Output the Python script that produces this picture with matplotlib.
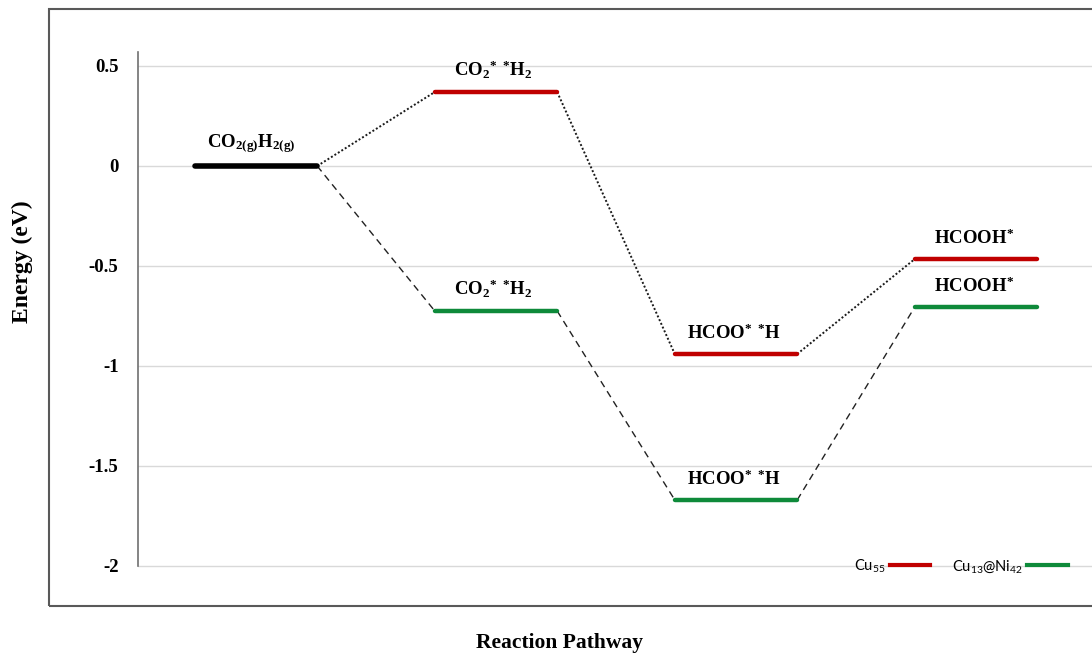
import matplotlib
matplotlib.use("Agg")
import matplotlib.pyplot as plt
from matplotlib.lines import Line2D
from matplotlib.patches import Rectangle

plt.rcParams['mathtext.default'] = 'regular'

# ---- data ----
stages = ['$CO_{2(g)}H_{2(g)}$', '$CO_2{}^{*}\\ {}^{*}H_2$', '$HCOO^{*}\\ {}^{*}H$', '$HCOOH^{*}$']
x_pos = [1, 2, 3, 4]
cu55 = [0.0, 0.37, -0.94, -0.465]
cu13ni42 = [0.0, -0.725, -1.67, -0.705]
yticks = [0.5, 0, -0.5, -1, -1.5, -2]
ytick_labels = ['0.5', '0', '-0.5', '-1', '-1.5', '-2']
series_names = ['Cu$_{55}$', 'Cu$_{13}$@Ni$_{42}$']

RED = '#c00000'
GREEN = '#0e8a3a'
W, H = 1092, 656
half = 0.255

fig = plt.figure(figsize=(W / 100, H / 100), dpi=100)
fig.patch.set_facecolor('white')

# outer frame
fig.patches.append(Rectangle((49 / W, (H - 606) / H), 1.2, (606 - 9) / H,
                             transform=fig.transFigure, fill=False,
                             edgecolor='#595959', linewidth=1.5))

ymin, ymax = -2.02, 0.57
ax = fig.add_axes([138 / W, (90 - 4) / H, (W - 138) / W, (566 + 4 - 52) / H])
ax.set_ylim(ymin, ymax)
ax.set_xlim(1 - 118 / 240, 1 + (W - 256) / 240)

for s in ['top', 'right', 'bottom']:
    ax.spines[s].set_visible(False)
ax.spines['left'].set_color('#707070')
ax.spines['left'].set_linewidth(1.2)
ax.spines['left'].set_bounds(-2, ymax)
ax.set_xticks([])
ax.set_yticks(yticks)
ax.set_yticklabels(ytick_labels, fontfamily='Liberation Serif', fontweight='bold', fontsize=13.5)
ax.tick_params(axis='y', length=0, pad=14)
ax.yaxis.grid(True, color='#d9d9d9', linewidth=1)
ax.set_axisbelow(True)

# connectors
for i in range(len(x_pos) - 1):
    ax.plot([x_pos[i] + half, x_pos[i + 1] - half], [cu55[i], cu55[i + 1]],
            color='#1a1a1a', linewidth=1.4, linestyle=(0, (1, 1.1)), zorder=2)
    ax.plot([x_pos[i] + half, x_pos[i + 1] - half], [cu13ni42[i], cu13ni42[i + 1]],
            color='#222222', linewidth=1.0, linestyle=(0, (5, 3.5)), zorder=2)

lab_kw = dict(fontfamily='Liberation Serif', fontweight='bold', fontsize=13.5,
              ha='center', va='bottom', zorder=4)

# initial level
ax.plot([x_pos[0] - half, x_pos[0] + half], [cu55[0], cu55[0]],
        color='black', linewidth=4, solid_capstyle='round', zorder=3)
ax.text(x_pos[0] - 0.02, cu55[0] + 0.055, stages[0], **lab_kw)

for i in range(1, len(x_pos)):
    ax.plot([x_pos[i] - half, x_pos[i] + half], [cu55[i], cu55[i]],
            color=RED, linewidth=3.2, solid_capstyle='round', zorder=3)
    ax.plot([x_pos[i] - half, x_pos[i] + half], [cu13ni42[i], cu13ni42[i]],
            color=GREEN, linewidth=3.2, solid_capstyle='round', zorder=3)
    ax.text(x_pos[i] - 0.01, cu55[i] + 0.055, stages[i], **lab_kw)
    ax.text(x_pos[i] - 0.01, cu13ni42[i] + 0.055, stages[i], **lab_kw)

handles = [Line2D([], [], color=RED, linewidth=3), Line2D([], [], color=GREEN, linewidth=3)]
ax.legend(handles, series_names, ncol=2, markerfirst=False, frameon=False,
          loc='center', bbox_to_anchor=((961 - 138) / (W - 138), (-2 - ymin) / (ymax - ymin)),
          prop={'family': 'Lato', 'size': 10.5}, handlelength=2.8,
          handletextpad=0.3, columnspacing=1.5)

fig.text(22 / W, 1 - 262 / H, 'Energy (eV)', rotation=90, ha='center', va='center',
         fontfamily='Liberation Serif', fontweight='bold', fontsize=17)
fig.text(560 / W, 1 - 643 / H, 'Reaction Pathway', ha='center', va='center',
         fontfamily='Liberation Serif', fontweight='bold', fontsize=15.5)

fig.savefig('out.png', dpi=100)
